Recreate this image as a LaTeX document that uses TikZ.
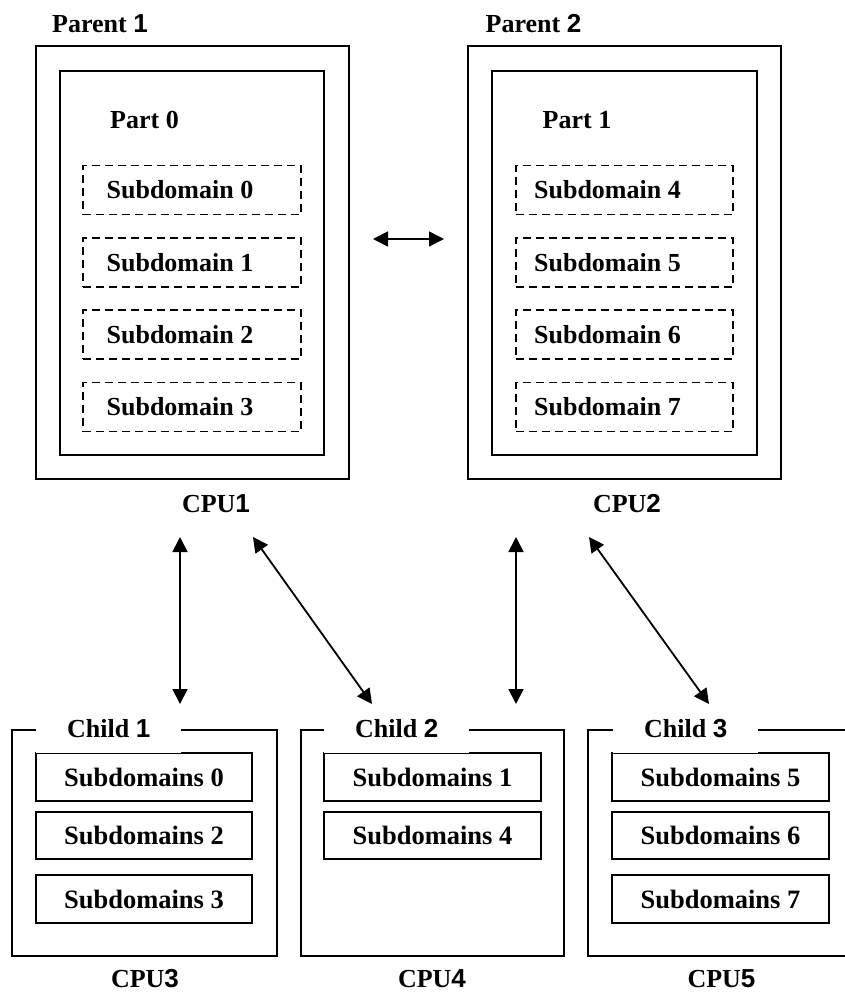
\documentclass[tikz,border=0pt]{standalone}
\usepackage{fontspec}
\setmainfont{Liberation Serif}
\newfontfamily\arl{Liberation Sans}
\usetikzlibrary{arrows.meta}
\newcommand\nd[1]{{\arl\bfseries #1}}
\tikzset{
  txt/.style={font=\fontsize{26}{30}\selectfont\bfseries, inner sep=0pt, anchor=base},
  stxt/.style={font=\fontsize{26}{30}\selectfont\bfseries, inner sep=0pt},
  outerbox/.style={draw, line width=2pt, inner sep=0pt},
  dbox/.style={draw, line width=1.8pt, dash pattern=on 8pt off 5pt, inner sep=0pt, minimum width=218pt, minimum height=49pt},
  sbox/.style={draw, line width=2pt, inner sep=0pt, minimum width=217pt, minimum height=48pt, font=\fontsize{26.5}{30}\selectfont\bfseries},
  lblbox/.style={fill=white, inner sep=0pt, minimum width=145pt, text height=19pt, text depth=15.5pt, anchor=base west, font=\fontsize{26}{30}\selectfont\bfseries},
  arr/.style={line width=1.8pt, {Triangle[length=15pt,width=15pt]}-{Triangle[length=15pt,width=15pt]}}
}
\begin{document}
\begin{tikzpicture}[x=1pt,y=-1pt]
\useasboundingbox[fill=white] (0,0) rectangle (845,994);
% Parent 1
\node[outerbox, minimum width=313pt, minimum height=433pt] (p1o) at (192.5,262.5) {};
\node[outerbox, minimum width=264pt, minimum height=384pt] (p1i) at (192,263) {};
\node[txt] (p1t) at (100,32) {Parent \nd{1}};
\node[txt] (part0) at (144.5,128) {Part 0};
\node[dbox] (p1s0) at (192,190) {};
\node[dbox] (p1s1) at (192,262.5) {};
\node[dbox] (p1s2) at (192,334.5) {};
\node[dbox] (p1s3) at (192,407) {};
\node[stxt] (p1s0t) at ([xshift=-12pt]p1s0.center) {Subdomain 0};
\node[stxt] (p1s1t) at ([xshift=-12pt]p1s1.center) {Subdomain 1};
\node[stxt] (p1s2t) at ([xshift=-12pt]p1s2.center) {Subdomain 2};
\node[stxt] (p1s3t) at ([xshift=-12pt]p1s3.center) {Subdomain 3};
\node[txt] (cpu1) at (216,512) {CPU\nd{1}};
% Parent 2
\node[outerbox, minimum width=313pt, minimum height=433pt] (p2o) at (624.5,262.5) {};
\node[outerbox, minimum width=265pt, minimum height=384pt] (p2i) at (624.5,263) {};
\node[txt] (p2t) at (533.5,32) {Parent \nd{2}};
\node[txt] (part1) at (577,128) {Part 1};
\node[dbox, minimum width=217pt] (p2s0) at (624.5,190) {};
\node[dbox, minimum width=217pt] (p2s1) at (624.5,262.5) {};
\node[dbox, minimum width=217pt] (p2s2) at (624.5,334.5) {};
\node[dbox, minimum width=217pt] (p2s3) at (624.5,407) {};
\node[stxt] (p2s0t) at ([xshift=-17pt]p2s0.center) {Subdomain 4};
\node[stxt] (p2s1t) at ([xshift=-17pt]p2s1.center) {Subdomain 5};
\node[stxt] (p2s2t) at ([xshift=-17pt]p2s2.center) {Subdomain 6};
\node[stxt] (p2s3t) at ([xshift=-17pt]p2s3.center) {Subdomain 7};
\node[txt] (cpu2) at (627,512) {CPU\nd{2}};
% Children
\node[outerbox, minimum width=265pt, minimum height=226pt] (c1) at (144.5,843) {};
\node[outerbox, minimum width=263pt, minimum height=226pt] (c2) at (432.5,843) {};
\node[outerbox, minimum width=264pt, minimum height=226pt] (c3) at (720,843) {};
\node[sbox, minimum width=216pt] (c1s0) at (144,777) {Subdomains 0};
\node[sbox, minimum width=216pt, minimum height=47pt] (c1s1) at (144,835.5) {Subdomains 2};
\node[sbox, minimum width=216pt] (c1s2) at (144,899) {Subdomains 3};
\node[sbox] (c2s0) at (432.5,777) {Subdomains 1};
\node[sbox, minimum height=47pt] (c2s1) at (432.5,835.5) {Subdomains 4};
\node[sbox] (c3s0) at (720.5,777) {Subdomains 5};
\node[sbox, minimum height=47pt] (c3s1) at (720.5,835.5) {Subdomains 6};
\node[sbox] (c3s2) at (720.5,899) {Subdomains 7};
\node[lblbox] (c1t) at (36,737) {Child \nd{1}};
\node[lblbox] (c2t) at (324,737) {Child \nd{2}};
\node[lblbox] (c3t) at (613,737) {Child \nd{3}};
\node[txt] (cpu3) at (145,987) {CPU\nd{3}};
\node[txt] (cpu4) at (432,987) {CPU\nd{4}};
\node[txt] (cpu5) at (721.5,987) {CPU\nd{5}};
% arrow end points
\coordinate (h1) at (373,239);
\coordinate (h2) at (444,239);
\coordinate (a1) at (180,537);
\coordinate (b1) at (180,704);
\coordinate (a2) at (253,537);
\coordinate (b2) at (372,704);
\coordinate (a3) at (516,537);
\coordinate (b3) at (516,704);
\coordinate (a4) at (589,537);
\coordinate (b4) at (709,704);
\draw[arr] (h1) -- (h2);
\draw[arr] (a1) -- (b1);
\draw[arr] (a2) -- (b2);
\draw[arr] (a3) -- (b3);
\draw[arr] (a4) -- (b4);
\end{tikzpicture}
\end{document}
